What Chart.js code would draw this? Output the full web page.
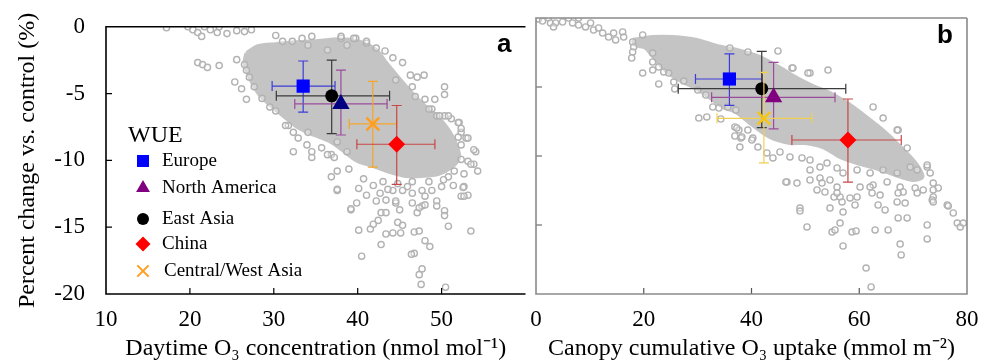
<!DOCTYPE html>
<html lang="en">
<head>
<meta charset="UTF-8">
<title>WUE response to O3</title>
<style>
  html, body { margin: 0; padding: 0; background: #fff; }
  body { width: 984px; height: 364px; position: relative; overflow: hidden; }
  canvas { position: absolute; top: 0; }
  #chartA { left: 0; }
  #chartB { left: 500px; }
</style>
</head>
<body>
<canvas id="chartA" width="537" height="364"></canvas>
<canvas id="chartB" width="484" height="364"></canvas>

<script src="https://cdn.jsdelivr.net/npm/chart.js@4"></script>
<script>
// --- data ---
const regions = ['Europe', 'North America', 'East Asia', 'China', 'Central/West Asia'];

// panel a: daytime O3 concentration
const aMeanX  = [33.5, 38.0, 36.9, 44.65, 41.8];
const aMeanY  = [-4.44, -5.77, -5.17, -8.79, -7.27];
const aXLow   = [29.8, 32.5, 30.3, 39.9, 39.0];
const aXHigh  = [37.3, 43.5, 43.8, 49.2, 44.65];
const aYTop   = [-2.56, -3.24, -2.49, -5.89, -4.08];
const aYBot   = [-6.38, -8.1, -8.0, -11.8, -10.5];

// panel b: canopy cumulative O3 uptake
const bMeanX  = [35.9, 44.1, 41.9, 57.9, 42.3];
const bMeanY  = [-4.42, -5.75, -5.12, -8.84, -7.27];
const bXLow   = [29.6, 32.6, 26.4, 47.5, 33.6];
const bXHigh  = [42.0, 55.5, 57.5, 67.8, 51.2];
const bYTop   = [-2.6, -3.21, -2.42, -5.87, -3.94];
const bYBot   = [-6.33, -8.04, -7.95, -11.9, -10.5];

const xTicksA = [10, 20, 30, 40, 50, 60];
const xTicksB = [0, 20, 40, 60, 80];
const yTicks  = [0, -5, -10, -15, -20];

// dense part of the grey cloud (outline), panel a
const aCore = [[26.74,-1.96],[28.14,-1.45],[30.23,-1.3],[32.56,-1.16],[34.88,-1.09],[37.79,-0.94],[40.12,-1.09],
  [42.21,-1.74],[43.37,-2.68],[45.0,-3.91],[46.51,-5.0],[48.02,-5.94],[49.65,-6.81],[50.93,-7.83],[51.74,-8.84],
  [52.09,-9.78],[51.16,-10.51],[49.65,-11.01],[47.67,-11.16],[45.7,-11.16],[43.84,-10.87],[41.86,-10.43],
  [39.88,-10.0],[38.14,-9.2],[36.63,-8.55],[34.3,-7.97],[32.56,-7.39],[31.16,-6.67],[29.77,-5.94],[28.49,-5.22],
  [27.56,-4.35],[26.86,-3.41],[26.51,-2.68],[26.74,-1.96]];

// individual grey circles, panel a
const aRings = [[17.21,-0.07],[19.77,0],[20.35,-0.22],[20.93,-0.43],[21.4,-0.72],[21.74,0],[22.44,-0.22],[23.26,-0.43],
  [23.49,0],[24.42,-0.51],[25.58,-0.29],[26.51,-0.36],[27.33,-0.22],[20.93,-2.68],[21.51,-2.83],[22.09,-3.04],
  [23.49,-2.9],[25.58,-2.46],[25.35,-4.13],[26.16,-4.64],[26.74,-5.43],[30.23,-6.3],[31.74,-7.39],[32.33,-9.35],
  [33.95,-8.84],[34.53,-9.78],[30.23,-0.65],[31.05,-1.09],[32.21,-1.09],[33.37,-0.87],[34.07,-1.38],[34.53,-0.72],
  [36.4,-1.74],[38.02,-0.87],[38.72,-1.38],[39.77,-0.87],[41.05,-1.23],[31.4,-7.39],[32.33,-7.9],[32.91,-8.33],
  [34.07,-7.9],[34.53,-9.35],[35.7,-9.06],[36.86,-9.57],[37.56,-8.62],[38.72,-9.35],[38.02,-0.72],[39.53,-0.87],
  [41.05,-1.09],[42.21,-1.59],[43.26,-1.81],[44.19,-2.32],[45.35,-2.68],[44.53,-3.99],[46.28,-3.62],[47.09,-3.77],
  [47.91,-3.62],[46.51,-4.49],[46.86,-5.22],[48.02,-5.43],[48.84,-6.16],[50.35,-4.49],[50.35,-5.07],[49.42,-6.67],
  [50.35,-6.67],[51.16,-6.88],[52.09,-7.17],[52.33,-7.9],[52.91,-8.33],[52.33,-8.84],[54.07,-9.35],[53.14,-10.07],
  [53.84,-10.29],[54.3,-10.8],[49.19,-5.43],[48.49,-6.16],[49.77,-6.67],[50.81,-6.67],[51.98,-7.17],[52.33,-7.61],
  [51.98,-8.26],[53.14,-8.33],[53.84,-9.2],[52.33,-9.93],[53.49,-10.29],[52.67,-11.01],[51.51,-10.8],[50.81,-11.23],
  [51.4,-11.88],[52.67,-11.96],[53.14,-12.61],[52.33,-12.68],[50.0,-11.96],[48.84,-12.25],[47.67,-12.25],
  [46.51,-12.46],[45.35,-12.25],[44.19,-12.25],[42.67,-12.46],[41.05,-12.61],[39.88,-13.19],[39.19,-13.7],
  [37.56,-12.25],[36.86,-11.23],[36.4,-9.57],[37.21,-9.78],[37.56,-10.8],[42.21,-13.04],[43.37,-12.97],
  [44.53,-13.19],[46.51,-13.19],[48.02,-12.68],[49.42,-13.04],[47.67,-13.41],[45.0,-13.7],[37.56,-12.17],
  [39.19,-13.62],[40.12,-15.22],[41.51,-15.14],[41.86,-14.78],[42.44,-14.49],[42.79,-13.91],[43.37,-13.91],
  [40.47,-17.17],[42.79,-16.3],[43.37,-15.51],[44.19,-15.43],[44.77,-14.64],[45.35,-14.86],[45.12,-15.43],
  [44.53,-13.04],[47.09,-13.91],[47.33,-13.55],[48.02,-13.33],[49.42,-13.41],[50.35,-13.77],[50.35,-14.13],
  [50.81,-14.93],[46.74,-15.36],[47.33,-15.29],[48.02,-16.01],[48.6,-16.45],[46.74,-16.96],[46.4,-17.03],
  [47.67,-18.12],[47.33,-18.55],[47.56,-19.28],[50.47,-19.49],[53.49,-15.29],[52.67,-12.68],[52.56,-12.03],
  [38.95,-10.65],[40.7,-11.38],[43.02,-11.59],[44.77,-11.74],[46.51,-11.59],[48.49,-11.59],[50.23,-11.45],
  [40.12,-12.1],[43.6,-12.17],[45.93,-11.96],[41.86,-11.88],[26.51,-2.83],[26.74,-3.26],[27.09,-3.77],
  [27.67,-4.49],[28.6,-5.36],[29.53,-6.01]];

// dense part of the grey cloud (outline), panel b
const bCore = [[17.94,-1.59],[21.66,-1.38],[25.38,-1.38],[29.84,-1.59],[33.56,-2.03],[37.28,-2.32],[41.0,-2.75],
  [44.72,-3.48],[48.44,-4.35],[51.41,-4.93],[54.57,-5.43],[57.74,-6.16],[59.6,-6.67],[62.0,-7.39],[63.9,-7.97],
  [65.76,-8.62],[67.62,-9.35],[69.48,-10.07],[70.97,-10.8],[71.72,-11.52],[69.86,-11.74],[66.7,-11.38],
  [63.0,-10.87],[59.6,-10.51],[56.43,-10.07],[53.27,-9.35],[49.92,-9.06],[47.13,-9.06],[43.41,-8.62],
  [39.7,-7.61],[37.1,-6.81],[34.68,-6.45],[32.08,-5.72],[29.66,-5.07],[27.24,-4.64],[24.64,-3.99],[22.22,-3.04],
  [20.36,-2.17],[18.5,-1.96],[17.94,-1.59]];

// individual grey circles, panel b
const bRings = [[0.46,-0.07],[1.21,-0.22],[2.32,0],[2.7,-0.36],[3.63,-0.36],[3.25,-0.65],[4.93,-0.29],[6.04,0],
  [6.79,-0.36],[7.9,0],[7.9,-0.51],[9.2,-0.65],[10.13,-0.36],[10.69,-0.87],[11.62,-0.72],[12.37,-1.09],
  [13.48,-1.38],[14.41,-1.09],[14.78,-1.59],[16.08,-1.01],[16.27,-1.38],[17.94,-1.74],[18.13,-2.1],[17.94,-2.46],
  [17.76,-2.9],[19.8,-1.23],[19.8,-3.99],[21.66,-2.54],[21.66,-3.19],[21.66,-3.77],[22.78,-3.55],[22.78,-4.78],
  [23.71,-3.91],[24.64,-3.99],[25.57,-4.64],[25.75,-5.14],[27.43,-4.57],[30.03,-5.22],[31.52,-5.58],[32.82,-6.45],
  [33.93,-6.52],[30.22,-7.25],[31.7,-7.17],[34.3,-7.32],[35.61,-6.45],[37.09,-6.67],[36.91,-7.9],[37.65,-8.12],
  [36.91,-8.55],[38.02,-8.7],[37.84,-9.35],[39.32,-8.12],[40.25,-8.7],[37.28,-7.97],[38.21,-8.62],[40.07,-8.84],
  [41.19,-9.35],[42.86,-9.78],[43.98,-10.14],[45.28,-9.71],[47.14,-10.07],[49.37,-10.14],[50.86,-10.29],
  [50.86,-11.01],[52.71,-10.8],[54.02,-10.51],[55.88,-10.87],[56.99,-11.23],[59.6,-11.01],[62.01,-11.23],
  [64.43,-11.01],[67.03,-11.23],[69.45,-10.8],[70.75,-11.01],[72.61,-10.8],[73.17,-11.23],[73.73,-11.96],
  [74.66,-12.32],[76.33,-13.55],[46.58,-11.88],[48.44,-11.96],[50.86,-11.74],[52.71,-11.59],[54.57,-11.74],
  [55.88,-12.25],[53.64,-12.61],[56.44,-12.97],[58.29,-13.04],[59.6,-12.97],[60.15,-12.25],[62.57,-12.1],
  [65.17,-11.88],[67.59,-12.25],[68.15,-12.61],[70.38,-12.32],[73.73,-12.97],[49.0,-13.77],[54.57,-13.77],
  [47.51,-3.62],[50.86,-3.99],[54.2,-3.77],[62.57,-6.45],[67.22,-8.12],[68.89,-9.42],[35.98,-2.17],[39.33,-2.46],
  [44.91,-2.39],[47.69,-3.62],[50.48,-3.99],[64.43,-7.25],[67.03,-8.12],[72.61,-10.65],[46.39,-11.88],
  [49.0,-13.99],[50.3,-15.14],[52.16,-12.46],[53.09,-11.96],[55.32,-12.97],[55.88,-12.68],[56.81,-13.33],
  [56.99,-14.06],[56.44,-14.86],[54.95,-15.51],[55.5,-15.36],[56.99,-16.52],[58.66,-15.51],[59.41,-15.43],
  [59.22,-13.55],[62.01,-12.25],[62.38,-12.68],[63.87,-12.83],[63.5,-13.55],[64.8,-13.91],[62.94,-15.36],
  [65.36,-15.36],[67.22,-14.49],[68.89,-14.49],[67.03,-13.33],[68.52,-13.41],[67.22,-12.68],[67.59,-16.38],
  [67.78,-17.17],[61.27,-18.12],[62.2,-19.49],[72.61,-15.0],[72.61,-16.01],[73.54,-13.19],[73.73,-13.33],
  [76.52,-13.62],[77.45,-14.13],[78.19,-14.86],[78.75,-15.14],[79.31,-14.86],[71.87,-12.46],[73.73,-12.46],
  [70.75,-12.68]];

// --- styles ---
const SERIF = "'Liberation Serif', 'Times New Roman', serif";
const markerStyle = [
  { pointStyle: 'rect',     radius: 9.3, fill: '#0000ff', bar: '#3c3cd8' },
  { pointStyle: 'triangle', radius: 10,  fill: '#000080', bar: '#9a4c9a' },
  { pointStyle: 'circle',   radius: 6.5, fill: '#000000', bar: '#3a3a3a' },
  { pointStyle: 'rectRot',  radius: 8.5, fill: '#ff0000', bar: '#c84646' },
  { pointStyle: 'crossRot', radius: 9,   fill: '#ff9d1e', bar: '#f5a52c' }
];
const legendColor = ['#0000ff', '#800080', '#000000', '#ff0000', '#ff9d1e'];
const drawOrder = [5, 3, 4, 1, 2]; // lower is drawn on top

function markerSets(mx, my, xl, xh, yt, yb, colors, bars) {
  return regions.map((name, i) => {
    const s = markerStyle[i];
    const isCross = s.pointStyle === 'crossRot';
    return {
      type: 'scatter',
      label: name,
      data: [{ x: mx[i], y: my[i] }],
      pointStyle: s.pointStyle,
      pointRadius: s.radius,
      backgroundColor: colors[i],
      borderColor: colors[i],
      borderWidth: isCross ? 2.5 : 0,
      order: drawOrder[i],
      errX: [xl[i], xh[i]],
      errY: [yt[i], yb[i]],
      errColor: bars[i]
    };
  });
}

function cloudSets(core, rings) {
  return [
    {
      type: 'scatter',
      label: 'obs',
      data: rings.map(p => ({ x: p[0], y: p[1] })),
      pointStyle: 'circle',
      pointRadius: 3.1,
      borderWidth: 1.4,
      borderColor: '#b2b2b2',
      backgroundColor: 'rgba(255,255,255,0.35)',
      order: 20
    },
    {
      type: 'line',
      label: 'core',
      data: core.map(p => ({ x: p[0], y: p[1] })),
      showLine: true,
      tension: 0.3,
      pointRadius: 0,
      borderWidth: 4,
      borderColor: '#c4c4c4',
      backgroundColor: '#c4c4c4',
      fill: 'shape',
      order: 30
    }
  ];
}

// error bars, drawn just beneath each marker
const errorBars = {
  id: 'errorBars',
  beforeDatasetDraw(chart, args) {
    const ds = chart.data.datasets[args.index];
    if (!ds.errX) return;
    const xs = chart.scales.x, ys = chart.scales.y, ctx = chart.ctx;
    const px = xs.getPixelForValue(ds.data[0].x);
    const py = ys.getPixelForValue(ds.data[0].y);
    const x0 = xs.getPixelForValue(ds.errX[0]), x1 = xs.getPixelForValue(ds.errX[1]);
    const y0 = ys.getPixelForValue(ds.errY[0]), y1 = ys.getPixelForValue(ds.errY[1]);
    const cap = 5;
    ctx.save();
    ctx.strokeStyle = ds.errColor;
    ctx.lineWidth = 1.2;
    ctx.beginPath();
    ctx.moveTo(x0, py); ctx.lineTo(x1, py);
    ctx.moveTo(px, y0); ctx.lineTo(px, y1);
    ctx.moveTo(x0, py - cap); ctx.lineTo(x0, py + cap);
    ctx.moveTo(x1, py - cap); ctx.lineTo(x1, py + cap);
    ctx.moveTo(px - cap, y0); ctx.lineTo(px + cap, y0);
    ctx.moveTo(px - cap, y1); ctx.lineTo(px + cap, y1);
    ctx.stroke();
    ctx.restore();
  }
};

// frame, inward ticks and panel letter
const frame = {
  id: 'frame',
  afterDraw(chart, args, opts) {
    const { ctx, chartArea: a } = chart;
    const xs = chart.scales.x, ys = chart.scales.y;
    ctx.save();
    ctx.lineWidth = 1.2;
    ctx.strokeStyle = opts.tickColor;
    ctx.beginPath();
    xs.ticks.forEach(t => {
      if (t.value <= xs.min || t.value >= xs.max) return;
      const x = xs.getPixelForValue(t.value);
      ctx.moveTo(x, a.bottom); ctx.lineTo(x, a.bottom - 6);
    });
    ys.ticks.forEach(t => {
      if (t.value <= ys.min || t.value >= ys.max) return;
      const y = ys.getPixelForValue(t.value);
      ctx.moveTo(a.left, y); ctx.lineTo(a.left + 6, y);
    });
    ctx.stroke();
    ctx.lineWidth = 1.6;
    ctx.strokeStyle = opts.color;
    ctx.beginPath();
    ctx.moveTo(a.right, a.top); ctx.lineTo(a.left, a.top);
    ctx.lineTo(a.left, a.bottom); ctx.lineTo(a.right, a.bottom);
    if (opts.closeRight) ctx.lineTo(a.right, a.top);
    ctx.stroke();
    ctx.fillStyle = '#000';
    ctx.font = "bold 26px 'Liberation Sans', Arial, sans-serif";
    ctx.textAlign = 'right';
    ctx.textBaseline = 'alphabetic';
    ctx.fillText(opts.letter, a.right - 14, a.top + 25);
    ctx.restore();
  }
};

// legend block drawn inside panel a
const wueLegend = {
  id: 'wueLegend',
  afterDraw(chart, args, opts) {
    if (!opts.show) return;
    const ctx = chart.ctx;
    const rowY = [161, 188, 219, 244, 271];
    const size = [8.5, 8, 6, 7.5, 8];
    ctx.save();
    ctx.fillStyle = '#000';
    ctx.textBaseline = 'middle';
    ctx.font = '24px ' + SERIF;
    ctx.fillText('WUE', 128, 136);
    ctx.font = '19px ' + SERIF;
    regions.forEach((name, i) => {
      const s = markerStyle[i];
      ctx.fillStyle = legendColor[i];
      ctx.strokeStyle = legendColor[i];
      ctx.lineWidth = 2;
      Chart.helpers.drawPoint(ctx, {
        pointStyle: s.pointStyle, radius: size[i], rotation: 0,
        borderWidth: s.pointStyle === 'crossRot' ? 2 : 0
      }, 143, rowY[i]);
      ctx.fillStyle = '#000';
      ctx.fillText(name, i === 4 ? 164 : 162, rowY[i]);
    });
    ctx.restore();
  }
};

const tickFont = { family: SERIF, size: 23 };
const titleFont = { family: SERIF, size: 24 };

function axisX(min, max, step, title, hideLast) {
  return {
    type: 'linear', min: min, max: max,
    grid: { display: false }, border: { display: false },
    ticks: {
      stepSize: step, color: '#000', font: tickFont, padding: 4, maxRotation: 0,
      callback: v => (hideLast && v === max) ? '' : v
    },
    title: { display: true, text: title, color: '#000', font: titleFont, padding: { top: 0, bottom: 1 } },
    afterFit: s => { s.height = 70; }
  };
}

new Chart(document.getElementById('chartA'), {
  data: {
    datasets: markerSets(aMeanX, aMeanY, aXLow, aXHigh, aYTop, aYBot,
      markerStyle.map(s => s.fill), markerStyle.map(s => s.bar))
      .concat(cloudSets(aCore, aRings))
  },
  options: {
    responsive: false, animation: false,
    layout: { padding: { top: 4, right: 1, left: 0, bottom: 0 } },
    plugins: {
      legend: { display: false }, tooltip: { enabled: false },
      frame: { color: '#000', tickColor: '#000', letter: 'a', closeRight: false },
      wueLegend: { show: true }
    },
    scales: {
      x: axisX(xTicksA[0], xTicksA[xTicksA.length - 1], 10, 'Daytime O\u2083 concentration (nmol mol\u207B\u00B9)', true),
      y: {
        type: 'linear', min: yTicks[yTicks.length - 1], max: yTicks[0],
        grid: { display: false }, border: { display: false },
        ticks: { stepSize: 5, color: '#000', font: tickFont, padding: 13 },
        title: { display: true, text: 'Percent change vs. control (%)', color: '#000', font: titleFont, padding: { top: 13, bottom: 0 } },
        afterFit: s => { s.width = 106; }
      }
    }
  },
  plugins: [errorBars, frame, wueLegend]
});

// panel b uses its own colour for two of the groups
const bColors = ['#0000ff', '#800080', '#000000', '#ff0000', '#f5c518'];
const bBars = ['#3c3cd8', '#9a4c9a', '#3a3a3a', '#c84646', '#f0d050'];

new Chart(document.getElementById('chartB'), {
  data: {
    datasets: markerSets(bMeanX, bMeanY, bXLow, bXHigh, bYTop, bYBot, bColors, bBars)
      .concat(cloudSets(bCore, bRings))
  },
  options: {
    responsive: false, animation: false,
    layout: { padding: { top: 18, right: 17, left: 36, bottom: 0 } },
    plugins: {
      legend: { display: false }, tooltip: { enabled: false },
      frame: { color: '#8a8a8a', tickColor: '#555', letter: 'b', closeRight: true },
      wueLegend: { show: false }
    },
    scales: {
      x: axisX(xTicksB[0], xTicksB[xTicksB.length - 1], 20, 'Canopy cumulative O\u2083 uptake (mmol m\u207B\u00B2)', false),
      y: {
        type: 'linear', min: yTicks[yTicks.length - 1], max: yTicks[0], display: false,
        ticks: { stepSize: 5 }
      }
    }
  },
  plugins: [errorBars, frame, wueLegend]
});
</script>
</body>
</html>
